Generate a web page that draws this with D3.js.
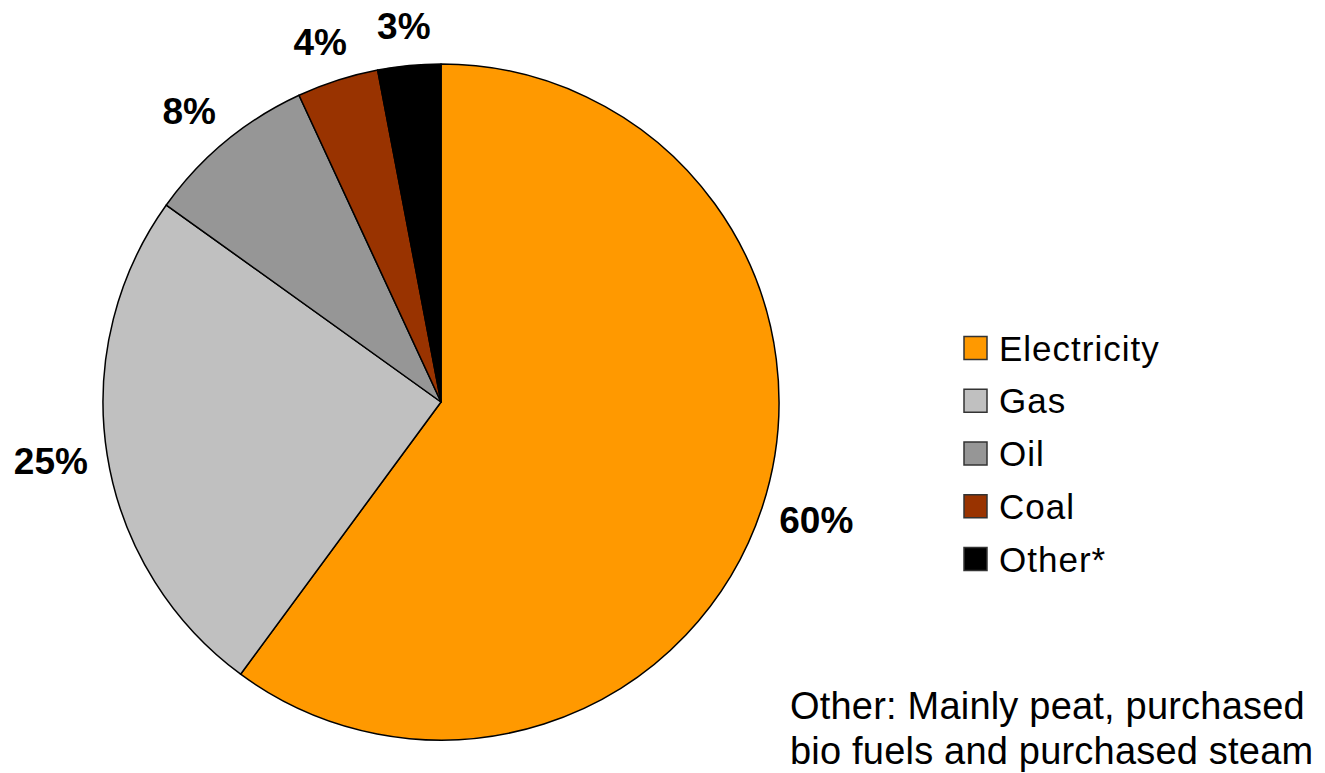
<!DOCTYPE html>
<html lang="en">
<head>
	<meta charset="utf-8">
	<title>Energy use by source</title>
	<style>
		html, body { margin: 0; padding: 0; background: #fff; }
		svg { display: block; }
		text { font-family: "Liberation Sans", Arial, sans-serif; fill: #000; }
	</style>
</head>
<body>
	<script src="https://cdn.jsdelivr.net/npm/d3@7"></script>
	<script>
		const categories = ["Electricity", "Gas", "Oil", "Coal", "Other*"];
		const shares = [60.1, 24.8, 8.2, 3.9, 3.0];
		const colors = ["#ff9900", "#c0c0c0", "#969696", "#993300", "#000000"];
		const footnote = ["Other: Mainly peat, purchased", "bio fuels and purchased steam"];

		const width = 1325, height = 773;
		const cx = 441, cy = 402, radius = 338;

		const svg = d3.select(document.body)
			.append("svg")
			.attr("width", width)
			.attr("height", height);

		const data = categories.map((c, i) => ({ name: c, value: shares[i], color: colors[i] }));

		const pie = d3.pie()
			.value(d => d.value)
			.sort(null);

		const arc = d3.arc()
			.innerRadius(0)
			.outerRadius(radius);

		const arcs = pie(data);

		// labels sit outside the rim; text boxes are wider than tall
		const labelRx = radius + 57, labelRy = radius + 40;
		function labelPos(d) {
			const a = (d.startAngle + d.endAngle) / 2;
			return [labelRx * Math.sin(a), -labelRy * Math.cos(a)];
		}

		const gPie = svg.append("g")
			.attr("transform", `translate(${cx},${cy})`);

		gPie.selectAll("path")
			.data(arcs)
			.join("path")
			.attr("d", arc)
			.attr("fill", d => d.data.color)
			.attr("stroke", "#000")
			.attr("stroke-width", 1.5)
			.attr("stroke-linejoin", "round");

		const fmt = d3.format(".0f");
		gPie.selectAll("text")
			.data(arcs)
			.join("text")
			.attr("transform", d => `translate(${labelPos(d)})`)
			.attr("text-anchor", "middle")
			.attr("dy", "0.36em")
			.attr("font-size", 37)
			.attr("font-weight", "bold")
			.text(d => fmt(d.data.value) + "%");

		// legend
		const legendY = d3.scalePoint()
			.domain(categories)
			.range([348, 559]);

		const legend = svg.append("g").attr("class", "legend");
		const item = legend.selectAll("g")
			.data(data)
			.join("g")
			.attr("transform", d => `translate(964,${legendY(d.name)})`);

		item.append("rect")
			.attr("x", 0)
			.attr("y", -11.5)
			.attr("width", 23)
			.attr("height", 23)
			.attr("fill", d => d.color)
			.attr("stroke", "#333")
			.attr("stroke-width", 1.5);

		item.append("text")
			.attr("x", 35)
			.attr("dy", "0.36em")
			.attr("font-size", 35)
			.attr("letter-spacing", 1)
			.text(d => d.name);

		// footnote
		svg.append("text")
			.attr("x", 790)
			.attr("y", 719)
			.attr("font-size", 38)
			.attr("letter-spacing", 0.2)
			.selectAll("tspan")
			.data(footnote)
			.join("tspan")
			.attr("x", 790)
			.attr("dy", (d, i) => i === 0 ? 0 : 45)
			.text(d => d);
	</script>
</body>
</html>
